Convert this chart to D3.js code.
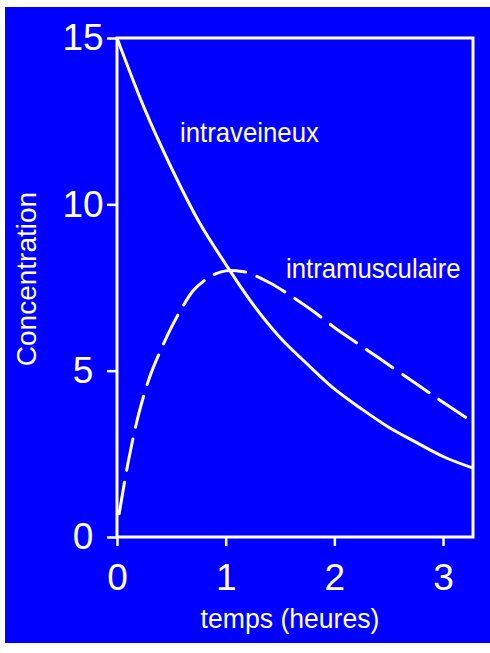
<!DOCTYPE html>
<html>
<head>
<meta charset="utf-8">
<script src="https://cdn.jsdelivr.net/npm/d3@7"></script>
<style>
  html, body { margin: 0; padding: 0; background: #ffffff; }
  svg { display: block; }
  text { font-family: "Liberation Sans", Arial, Helvetica, sans-serif; fill: #ffffff; }
</style>
</head>
<body>
<svg id="chart" width="490" height="653"></svg>
<script>
// ---- data ----
const timeIV = [0, 0.25, 0.5, 0.75, 1.0, 1.25, 1.5, 1.75, 2.0, 2.25, 2.5, 2.75, 3.0, 3.276];
const concIV = [15, 12.9, 11.1, 9.5, 8.2, 7.0, 6.0, 5.2, 4.45, 3.85, 3.3, 2.85, 2.42, 2.07];

const timeIM = [0.02, 0.1, 0.2, 0.3, 0.4, 0.5, 0.6, 0.7, 0.8, 0.9, 1.0, 1.1, 1.2, 1.4, 1.6, 1.8, 2.0, 2.2, 2.4, 2.6, 2.8, 3.0, 3.276];
const concIM = [0.7, 2.2, 3.7, 4.8, 5.6, 6.3, 6.9, 7.4, 7.7, 7.9, 8.0, 8.0, 7.95, 7.65, 7.25, 6.8, 6.3, 5.85, 5.4, 4.95, 4.5, 4.05, 3.45];

const xTicks = [0, 1, 2, 3];
const yTicks = [0, 5, 10, 15];
const xLabel = "temps (heures)";
const yLabel = "Concentration";
const labelIV = "intraveineux";
const labelIM = "intramusculaire";

// ---- layout ----
const svg = d3.select("#chart");
const W = 490, H = 653;
const plot = { left: 117, right: 473, top: 38, bottom: 537 };

svg.append("rect").attr("x", 5).attr("y", 7).attr("width", W - 5).attr("height", 636).attr("fill", "#0000ff");

const x = d3.scaleLinear().domain([0, 3.276]).range([plot.left, plot.right]);
const y = d3.scaleLinear().domain([0, 15]).range([plot.bottom, plot.top]);

// axes
const yAxis = svg.append("g").attr("transform", `translate(${plot.left},0)`)
  .call(d3.axisLeft(y).tickValues(yTicks).tickSize(10).tickPadding(24).tickFormat(d3.format("d")));
const xAxis = svg.append("g").attr("transform", `translate(0,${plot.bottom})`)
  .call(d3.axisBottom(x).tickValues(xTicks).tickSize(9).tickPadding(18).tickFormat(d3.format("d")));

[yAxis, xAxis].forEach(g => {
  g.select(".domain").remove();
  g.selectAll(".tick line").attr("stroke", "#ffffff").attr("stroke-width", 2.5);
  g.selectAll(".tick text").attr("fill", "#ffffff").style("font-size", "37px")
    .style("font-family", '"Liberation Sans", Arial, sans-serif');
});
yAxis.selectAll(".tick text").attr("text-anchor", "middle");

// frame
svg.append("rect")
  .attr("x", plot.left).attr("y", plot.top)
  .attr("width", plot.right - plot.left).attr("height", plot.bottom - plot.top)
  .attr("fill", "none").attr("stroke", "#ffffff").attr("stroke-width", 3);

// curves
const line = d3.line().x(d => x(d[0])).y(d => y(d[1])).curve(d3.curveCatmullRom.alpha(0.5));

svg.append("path")
  .datum(timeIV.map((t, i) => [t, concIV[i]]))
  .attr("d", line)
  .attr("fill", "none").attr("stroke", "#ffffff").attr("stroke-width", 3);

svg.append("path")
  .datum(timeIM.map((t, i) => [t, concIM[i]]))
  .attr("d", line)
  .attr("fill", "none").attr("stroke", "#ffffff").attr("stroke-width", 3)
  .attr("stroke-linecap", "round")
  .attr("stroke-dasharray", "32,12");

// labels
svg.append("text").attr("transform", "translate(180,142) scale(0.92,1)")
  .style("font-size", "28px").text(labelIV);
svg.append("text").attr("transform", "translate(286,278) scale(0.92,1)")
  .style("font-size", "28px").text(labelIM);

svg.append("text").attr("transform", "translate(290,628) scale(0.95,1)")
  .attr("text-anchor", "middle").style("font-size", "28px").text(xLabel);

svg.append("text")
  .attr("transform", "translate(36,279) rotate(-90)")
  .attr("text-anchor", "middle").style("font-size", "28px").text(yLabel);
</script>
</body>
</html>
